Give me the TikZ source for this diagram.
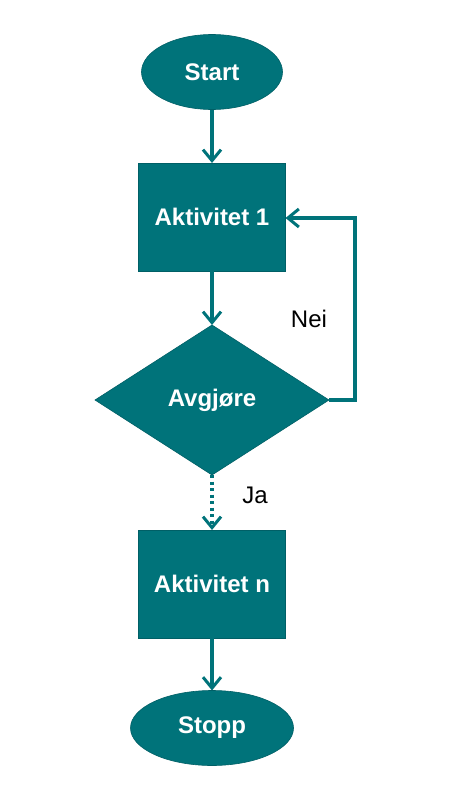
\documentclass[tikz,border=0pt]{standalone}
\usepackage{fontspec}
\setmainfont{Liberation Sans}
\usetikzlibrary{shapes.geometric,arrows.meta}
\definecolor{teal1}{HTML}{00737A}
\definecolor{teal2}{HTML}{005F66}
\begin{document}
\begin{tikzpicture}[x=1pt,y=-1pt,
  shp/.style={fill=teal1,draw=teal2,line width=0.6pt,text=white,font=\fontsize{24}{28}\selectfont\bfseries,inner sep=0pt,outer sep=0pt},
  term/.style={shp,ellipse},
  box/.style={shp,rectangle,minimum width=147pt,minimum height=108pt},
  dec/.style={shp,diamond,minimum width=234pt,minimum height=150pt},
  conn/.style={draw=teal1,line width=3.2pt,-{Straight Barb[length=11pt,width=18pt,line width=3pt]}},
  lbl/.style={text=black,font=\fontsize{24}{28}\selectfont,inner sep=0pt}]
\useasboundingbox (0,0) rectangle (450,800);
\node[term,minimum width=141pt,minimum height=75pt] (start) at (212,72) {Start};
\node[box] (a1) at (212,217) {Aktivitet 1};
\node[dec] (d) at (212,400) {Avgjøre};
\node[box] (an) at (212,584) {Aktivitet n};
\node[term,minimum width=163pt,minimum height=75pt] (stop) at (212,728) {Stopp};
\coordinate (c1) at (355,400);
\coordinate (c2) at (355,218);
\draw[conn] (start.south) -- (a1.north);
\draw[conn] (a1.south) -- (d.north);
\draw[conn] (d.east) -- (c1) -- (c2) -- (a1.east |- c2);
\draw[conn,dash pattern=on 3pt off 3.5pt] (d.south) -- (an.north);
\draw[conn] (an.south) -- (stop.north);
\node[lbl] (nei) at (309,319) {Nei};
\node[lbl] (ja) at (255,495) {Ja};
\end{tikzpicture}
\end{document}
